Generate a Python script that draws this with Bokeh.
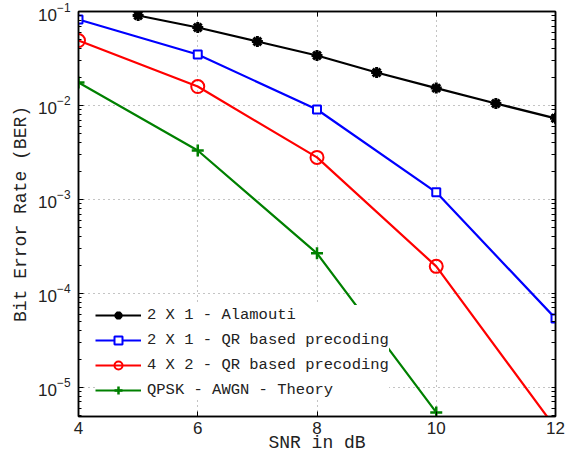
from bokeh.plotting import figure
from bokeh.models import LogAxis, LinearAxis, Legend, LegendItem, FixedTicker, Range1d
from bokeh.embed import file_html
from bokeh.resources import INLINE

snr_alamouti = [5, 6, 7, 8, 9, 10, 11, 12]
ber_alamouti = [0.0906, 0.0676, 0.048, 0.034, 0.0224, 0.0153, 0.0105, 0.0073]

snr_qr21 = [4, 6, 8, 10, 12]
ber_qr21 = [0.0822, 0.0349, 0.00906, 0.00119, 5.42e-5]

snr_qr42 = [4, 6, 8, 10, 12]
ber_qr42 = [0.0491, 0.0159, 0.0028, 1.94e-4, 3.7e-6]

snr_qpsk = [4, 6, 8, 10]
ber_qpsk = [0.0176, 0.00332, 2.67e-4, 5.42e-6]

x_ticks = [4, 6, 8, 10, 12]
y_ticks = [1e-5, 1e-4, 1e-3, 1e-2, 1e-1]
y_minor = [m * 10.0 ** e for e in range(-6, -1) for m in range(1, 10)]

p = figure(width=578, height=457, output_backend="svg", toolbar_location=None,
           y_axis_type="log", x_range=Range1d(4, 12), y_range=Range1d(4.9e-6, 0.1),
           min_border_left=78, min_border_right=23, min_border_top=11, min_border_bottom=41)
p.outline_line_color = "black"
p.outline_line_width = 1.5

tick_font = "Liberation Sans"
mono = "Liberation Mono"

for ax in [p.xaxis[0], p.yaxis[0]]:
    ax.major_tick_in = 5
    ax.major_tick_out = 0
    ax.minor_tick_in = 3
    ax.minor_tick_out = 0
    ax.axis_line_width = 1.5
    ax.major_label_text_font = tick_font
    ax.major_label_text_font_size = "17px"
    ax.major_label_text_color = "#222222"
    ax.axis_label_text_font = mono
    ax.axis_label_text_font_size = "18px"
    ax.axis_label_text_font_style = "normal"
    ax.axis_label_text_color = "#222222"

p.xaxis.ticker = FixedTicker(ticks=x_ticks, minor_ticks=[])
p.yaxis.ticker = FixedTicker(ticks=y_ticks, minor_ticks=y_minor)
p.xaxis.axis_label = "SNR in dB"
p.yaxis.axis_label = "Bit Error Rate (BER)"
p.xaxis.major_label_standoff = 5
p.xaxis.axis_label_standoff = -4
p.yaxis.major_label_standoff = 8
p.yaxis.axis_label_standoff = 4

p.xgrid.ticker = FixedTicker(ticks=x_ticks)
p.ygrid.ticker = FixedTicker(ticks=y_ticks)
for g in [p.xgrid[0], p.ygrid[0]]:
    g.grid_line_color = "#888888"
    g.grid_line_dash = "1 4"
    g.grid_line_width = 1

ra = LogAxis(ticker=FixedTicker(ticks=[], minor_ticks=y_minor), major_tick_in=0, major_tick_out=0,
             minor_tick_in=4, minor_tick_out=0, axis_line_width=1.5, minor_tick_line_width=1)
p.add_layout(ra, "right")
ta = LinearAxis(ticker=FixedTicker(ticks=[], minor_ticks=x_ticks), major_tick_in=0, major_tick_out=0,
                minor_tick_in=5, minor_tick_out=0, axis_line_width=1.5)
p.add_layout(ta, "above")

lw = 2.2
l1 = p.line(snr_alamouti, ber_alamouti, color="black", line_width=lw)
m1 = p.scatter(snr_alamouti, ber_alamouti, marker="asterisk", size=11, line_color="black", line_width=3)
l2 = p.line(snr_qr21, ber_qr21, color="#0000ff", line_width=lw)
m2 = p.scatter(snr_qr21, ber_qr21, marker="square", size=8, line_color="#0000ff", fill_color="white", line_width=2)
l3 = p.line(snr_qr42, ber_qr42, color="#ff0000", line_width=lw)
m3 = p.scatter(snr_qr42, ber_qr42, marker="circle", size=13, line_color="#ff0000", fill_color=None, line_width=2)
l4 = p.line(snr_qpsk, ber_qpsk, color="#008000", line_width=lw)
m4 = p.scatter(snr_qpsk, ber_qpsk, marker="cross", size=12, line_color="#008000", line_width=2.5)

legend = Legend(items=[
    LegendItem(label="2 X 1 - Alamouti", renderers=[l1, m1]),
    LegendItem(label="2 X 1 - QR based precoding", renderers=[l2, m2]),
    LegendItem(label="4 X 2 - QR based precoding", renderers=[l3, m3]),
    LegendItem(label="QPSK - AWGN - Theory", renderers=[l4, m4]),
], location=(17, 16), border_line_color=None, background_fill_color="white", background_fill_alpha=1,
    label_text_font=mono, label_text_font_size="15.5px", label_text_color="#222222",
    glyph_width=46, glyph_height=20, label_height=20, spacing=5, label_standoff=6,
    padding=8, margin=0)
p.add_layout(legend, "center")

open("out.html", "w").write(file_html(p, INLINE))
